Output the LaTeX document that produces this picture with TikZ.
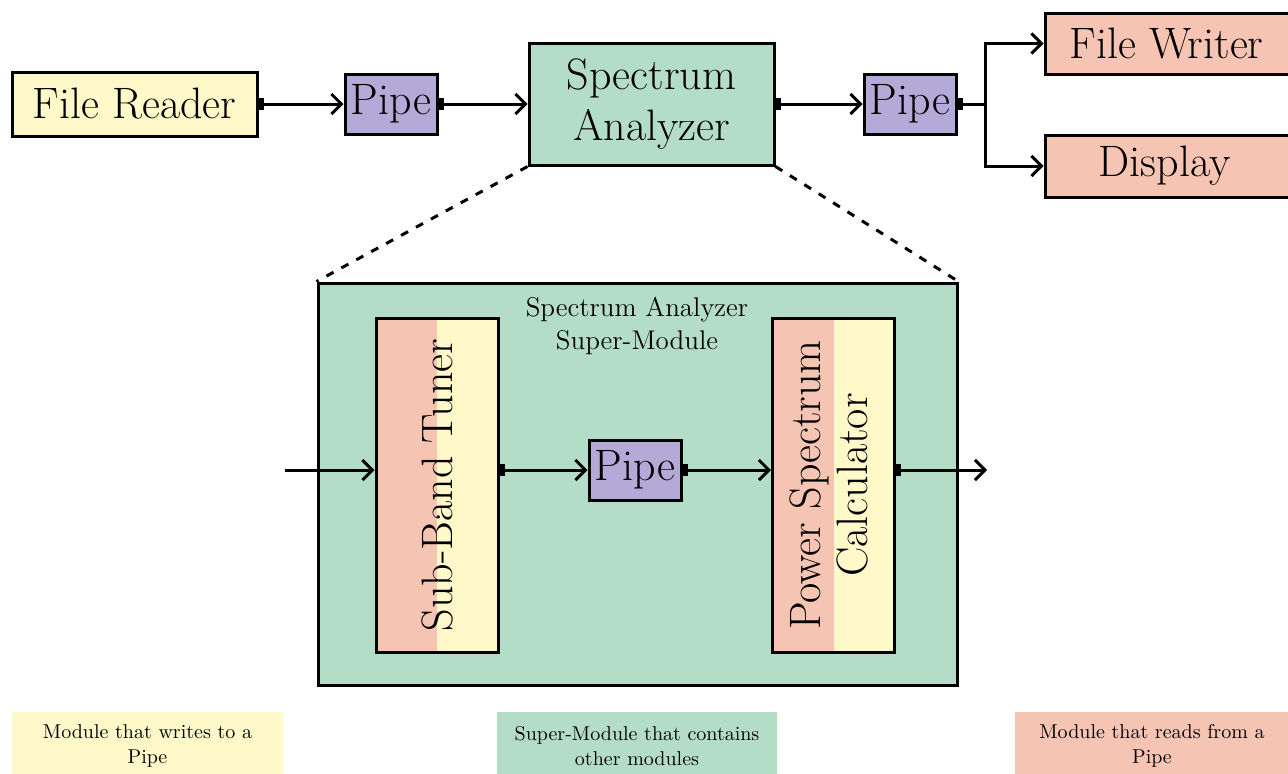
\documentclass[tikz,border=0pt]{standalone}
\usetikzlibrary{arrows.meta}

\definecolor{modyellow}{HTML}{FFF9C9}
\definecolor{modsalmon}{HTML}{F6C4B3}
\definecolor{pipeblue}{HTML}{B4AAD8}
\definecolor{supergreen}{HTML}{B4DDC8}

% small black output port sitting on the right edge of a module
\newcommand\outport[1]{\fill ([yshift=-3pt]#1) rectangle ([xshift=2.5pt,yshift=3pt]#1);}

\tikzset{
  box/.style={draw=black, line width=1.5pt, inner sep=0pt, align=center,
    font=\fontsize{22}{25.5}\selectfont},
  writer/.style={box, fill=modyellow},
  reader/.style={box, fill=modsalmon},
  pipebox/.style={box, fill=pipeblue, minimum width=46pt, minimum height=30pt},
  superbox/.style={box, fill=supergreen},
  splitbox/.style={box, minimum width=61pt, minimum height=167pt,
    path picture={
      \fill[modsalmon] (path picture bounding box.south west) rectangle (path picture bounding box.north);
      \fill[modyellow] (path picture bounding box.north) rectangle (path picture bounding box.south east);}},
  flow/.style={line width=1.5pt, -{Straight Barb[length=5pt,width=10pt]}},
  wire/.style={line width=1.5pt},
  zoomline/.style={line width=1.5pt, dash pattern=on 4pt off 4.5pt},
  legend/.style={inner sep=0pt, align=center, minimum height=34pt,
    font=\fontsize{10}{12.5}\selectfont},
}

\begin{document}
\begin{tikzpicture}[x=0.5pt, y=-0.5pt]
\useasboundingbox (0,0) rectangle (1288,773);
\clip (0,0) rectangle (1288,773);

% ---- top-level chain ----
\node[writer, minimum width=122.5pt, minimum height=32pt] (fr) at (134.5,104) {File Reader};
\node[pipebox] (p1) at (391,104) {Pipe};
\node[superbox, minimum width=122.5pt, minimum height=61pt] (sa) at (651.5,104) {Spectrum\\Analyzer};
\node[pipebox] (p2) at (910,104) {Pipe};
\node[reader, minimum width=127.5pt, minimum height=30.5pt] (fw) at (1172.5,43.5) {\hspace*{-6pt}File Writer};
\node[reader, minimum width=127.5pt, minimum height=31pt] (disp) at (1172.5,166) {\hspace*{-8pt}Display};

\outport{fr.east}
\outport{p1.east}
\outport{sa.east}
\outport{p2.east}

\draw[flow] (fr.east) -- (p1.west);
\draw[flow] (p1.east) -- (sa.west);
\draw[flow] (sa.east) -- (p2.west);
\coordinate (split) at (985,104);
\draw[wire] (p2.east) -- (split);
\draw[flow] (split) |- (fw.west);
\draw[flow] (split) |- (disp.west);

% ---- expanded super-module ----
\node[superbox, minimum width=319.5pt, minimum height=201pt] (sup) at (637.5,484) {};
\node[font=\fontsize{13.5}{16.5}\selectfont, align=center, inner sep=0pt] (suptitle) at (637,326)
  {Spectrum Analyzer\\Super-Module};

\draw[zoomline] (sa.south west) -- (sup.north west);
\draw[zoomline] (sa.south east) -- (sup.north east);

\node[splitbox] (sbt) at (437,485) {\rotatebox{90}{Sub-Band Tuner}};
\node[pipebox] (ip) at (635,470) {Pipe};
\node[splitbox] (psc) at (833.5,485)
  {\rotatebox{90}{\begin{tabular}{@{}c@{}}Power Spectrum\\[-2pt]Calculator\end{tabular}}};

\coordinate (in) at (285,470);
\coordinate (out) at (987,470);
\coordinate (sbtout) at (sbt.east |- ip);
\coordinate (pscout) at (psc.east |- ip);

\outport{sbtout}
\outport{ip.east}
\outport{pscout}

\draw[flow] (in) -- (in -| sbt.west);
\draw[flow] (sbtout) -- (ip.west);
\draw[flow] (ip.east) -- (ip -| psc.west);
\draw[flow] (pscout) -- (out);

% ---- legend ----
\node[legend, fill=modyellow, minimum width=135.5pt] (lw) at (147.5,746) {Module that writes to a\\Pipe};
\node[legend, fill=supergreen, minimum width=140pt] (ls) at (637,746) {Super-Module that contains\\other modules};
\node[legend, fill=modsalmon, minimum width=137pt] (lr) at (1152,746) {Module that reads from a\\Pipe};
\end{tikzpicture}
\end{document}
